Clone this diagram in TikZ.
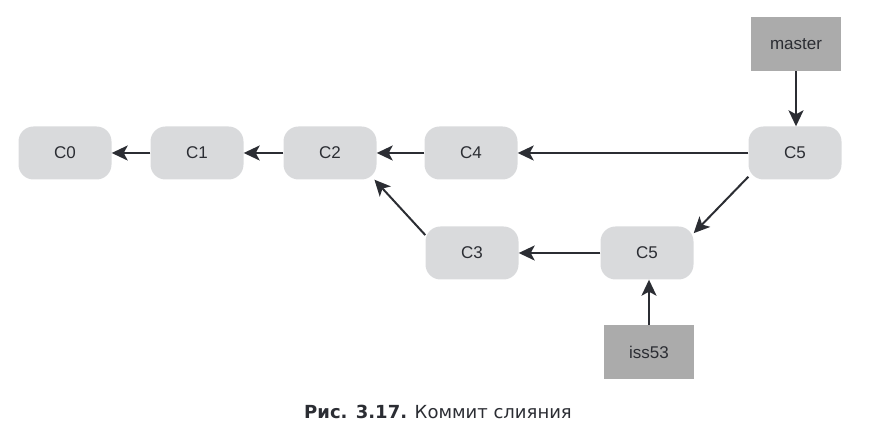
\documentclass[tikz,border=0pt]{standalone}
\usepackage{fontspec}
\setmainfont{Liberation Sans}
\newfontfamily\capfont{DejaVu Sans}
\usetikzlibrary{arrows.meta}
\definecolor{commitfill}{HTML}{D9DADC}
\definecolor{reffill}{HTML}{ABABAB}
\definecolor{arrowcol}{HTML}{2B2D33}
\tikzset{
  commit/.style={rounded corners=15pt, fill=commitfill, minimum width=93pt, minimum height=53pt, inner sep=0pt, font=\fontsize{17}{20}\selectfont, text=arrowcol},
  refbox/.style={fill=reffill, minimum width=90pt, minimum height=54pt, inner sep=0pt, font=\fontsize{17}{20}\selectfont, text=arrowcol},
  conn/.style={draw=arrowcol, line width=2pt, -{Stealth[length=16pt, width=15pt, inset=4pt]}}
}
\begin{document}
\begin{tikzpicture}[x=1pt, y=-1pt]
\useasboundingbox (0,0) rectangle (871,443);
\node[commit] (c0) at (65,153) {C0};
\node[commit] (c1) at (197,153) {C1};
\node[commit] (c2) at (330,153) {C2};
\node[commit] (c4) at (471,153) {C4};
\node[commit] (c5a) at (795,153) {C5};
\node[commit] (c3) at (472,253) {C3};
\node[commit] (c5b) at (647,253) {C5};
\node[refbox] (master) at (796,44) {master};
\node[refbox] (iss) at (649,352) {iss53};
\draw[conn] (c1) -- (c0);
\draw[conn] (c2) -- (c1);
\draw[conn] (c4) -- (c2);
\draw[conn] (c5a) -- (c4);
\draw[conn] (c5b) -- (c3);
\draw[conn] (master.south) -- (master.south |- c5a.north);
\draw[conn] (iss.north) -- (c5b.south -| iss.north);
\draw[conn] (c5a.207) -- (c5b.23);
\draw[conn] (c3.159) -- (c2.-31);
\node[font=\capfont\fontsize{18}{21}\selectfont, text=arrowcol] (cap) at (438,412) {\textbf{Рис. 3.17.} Коммит слияния};
\end{tikzpicture}
\end{document}
